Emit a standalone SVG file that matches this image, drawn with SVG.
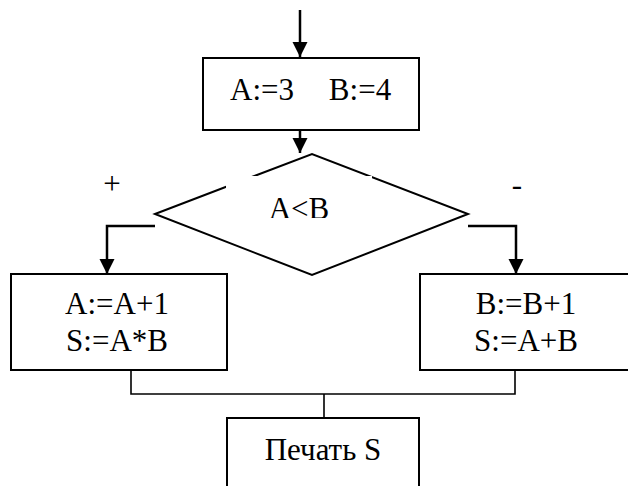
<svg xmlns="http://www.w3.org/2000/svg" width="628" height="486" viewBox="0 0 628 486">
<style>
.box{fill:#fff;stroke:#000;stroke-width:2}
.t{font-family:'Liberation Serif','Times New Roman',serif;font-size:31px;fill:#000;text-anchor:middle}
.arr{fill:none;stroke:#000;stroke-width:2.5}
.mrg{fill:none;stroke:#000;stroke-width:1.6}
</style>
<defs>
<marker id="ah" markerUnits="userSpaceOnUse" markerWidth="16" markerHeight="16" refX="15" refY="7.5" orient="auto">
<path d="M0,0 L15,7.5 L0,15 Z" fill="#000"/>
</marker>
<clipPath id="cl"><rect x="226" y="176" width="146" height="42"/></clipPath>
</defs>
<rect width="628" height="486" fill="#fff"/>
<g id="connectors">
<path class="arr" d="M300,10 V57" marker-end="url(#ah)"/>
<path class="arr" d="M300,130 V153" marker-end="url(#ah)"/>
<path class="arr" d="M155,226 H107 V274" marker-end="url(#ah)"/>
<path class="arr" d="M468,226 H516 V274" marker-end="url(#ah)"/>
<path class="mrg" d="M131,370 V394 H515 V370 M324,394 V418"/>
</g>
<g id="init">
<rect class="box" x="203" y="58" width="216" height="72"/>
<text class="t" y="100"><tspan x="262">A:=3</tspan><tspan x="360">B:=4</tspan></text>
</g>
<g id="cond">
<polygon class="box" points="155,214 312,154 468,214 312,275"/>
<rect x="226" y="176" width="146" height="42" fill="#fff"/>
<text class="t" x="299" y="219" clip-path="url(#cl)">A&lt;B</text>
</g>
<g id="labels">
<text class="t" x="112" y="194">+</text>
<text class="t" x="517" y="195">-</text>
</g>
<g id="yes">
<rect class="box" x="11" y="274" width="216" height="96"/>
<text class="t" x="117" y="314">A:=A+1</text>
<text class="t" x="117" y="351">S:=A*B</text>
</g>
<g id="no">
<rect class="box" x="420" y="274" width="216" height="96"/>
<text class="t" x="526" y="314">B:=B+1</text>
<text class="t" x="526" y="351">S:=A+B</text>
</g>
<g id="print">
<rect class="box" x="227" y="418" width="192" height="80"/>
<text class="t" x="323" y="460">Печать S</text>
</g>
</svg>
